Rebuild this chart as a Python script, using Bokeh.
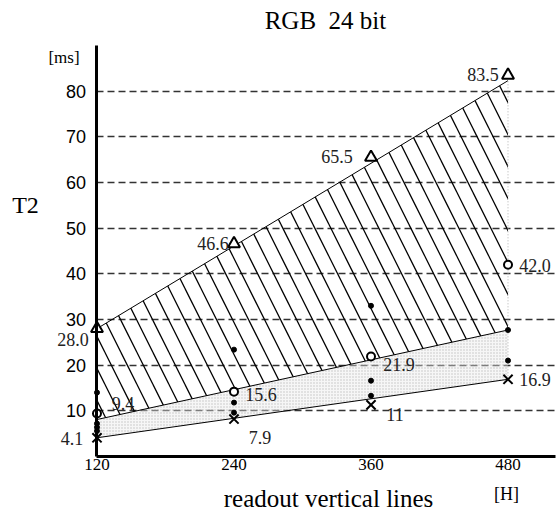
from bokeh.plotting import figure
from bokeh.models import (ColumnDataSource, FixedTicker, Label, LabelSet,
                          Range1d, Grid)
from bokeh.core.properties import value
from bokeh.embed import file_html
from bokeh.resources import INLINE

# ---------------- data ----------------
x_lines = [120, 240, 360, 480]
x_tick_labels = ["120", "240", "360", "480"]
y_ticks = [10, 20, 30, 40, 50, 60, 70, 80]

t_max = [28.0, 46.6, 65.5, 83.5]          # triangles
t_max_labels = ["28.0", "46.6", "65.5", "83.5"]
t_mid = [9.4, 14.2, 21.9, 42.0]           # circles
t_mid_labels = ["9.4", "15.6", "21.9", "42.0"]
t_min = [4.1, 8.2, 11.3, 16.9]            # crosses
t_min_labels = ["4.1", "7.9", "11", "16.9"]

dot_x = [120, 120, 120, 120, 240, 240, 240, 360, 360, 360, 480, 480]
dot_y = [14.0, 7.2, 6.4, 5.6, 23.4, 11.8, 9.6, 33.0, 16.6, 13.3, 27.7, 21.0]

band_x = [120, 480]
band_upper = [28.0, 82.3]
band_middle = [8.1, 27.7]
band_lower = [4.1, 16.9]

# label offsets in screen pixels (right, down)
max_dx = [-24, -21, -34, -25]
max_dy = [11, 0, -1, -1]
mid_dx = [26, 27, 28, 27]
mid_dy = [-10, 3, 8, 1]
min_dx = [-25, 26, 24, 27]
min_dy = [1, 18, 10, 0]

SERIF = "Liberation Serif"
SANS = "Liberation Sans"

X_END = 521.6
Y_TOP = 90

p = figure(width=559, height=515,
           x_range=Range1d(35.48, 525.1), y_range=Range1d(-12.92, 99.85),
           output_backend="svg", toolbar_location=None,
           min_border=0, min_border_left=0, min_border_right=0,
           min_border_top=0, min_border_bottom=0)
p.outline_line_color = None
p.background_fill_color = "white"
p.border_fill_color = "white"

# axes (drawn at x=120 / y=0 inside the frame)
p.xaxis.fixed_location = 0
p.xaxis.ticker = FixedTicker(ticks=x_lines)
p.xaxis.major_label_overrides = {x: s for x, s in zip(x_lines, x_tick_labels)}
p.xaxis.bounds = (x_lines[0], X_END)
p.xaxis.axis_line_width = 3
p.xaxis.axis_line_color = "black"
p.xaxis.major_tick_out = 0
p.xaxis.major_tick_in = 0
p.xaxis.minor_tick_out = 0
p.xaxis.minor_tick_in = 0
p.xaxis.major_label_standoff = 3
p.xaxis.major_label_text_font = SERIF
p.xaxis.major_label_text_font_size = "17px"
p.xaxis.major_label_text_color = "black"

p.yaxis.fixed_location = x_lines[0]
p.yaxis.ticker = FixedTicker(ticks=y_ticks)
p.yaxis.bounds = (0, Y_TOP)
p.yaxis.axis_line_width = 3
p.yaxis.axis_line_color = "black"
p.yaxis.major_tick_out = 0
p.yaxis.major_tick_in = 0
p.yaxis.minor_tick_out = 0
p.yaxis.minor_tick_in = 0
p.yaxis.major_label_standoff = 11
p.yaxis.major_label_text_font = SANS
p.yaxis.major_label_text_font_size = "18px"
p.yaxis.major_label_text_color = "black"

p.xgrid.visible = False
p.ygrid.grid_line_color = "#333333"
p.ygrid.grid_line_dash = "7 4"
p.ygrid.grid_line_width = 1.3
if "cross_bounds" in Grid.properties():
    p.ygrid.cross_bounds = (x_lines[0], X_END)

# shaded bands
p.varea(x=band_x, y1=band_lower, y2=band_middle, fill_color="#e8e8e8",
        fill_alpha=0.4, hatch_pattern="dot", hatch_scale=3,
        hatch_color="#8a8a8a", hatch_alpha=0.5)
p.varea(x=band_x, y1=band_middle, y2=band_upper, fill_alpha=0,
        hatch_pattern="left_diagonal_line", hatch_scale=32,
        hatch_weight=1.3, hatch_color="black")
p.line(band_x, band_upper, line_color="black", line_width=1)
p.line(band_x, band_middle, line_color="black", line_width=1)
p.line(band_x, band_lower, line_color="black", line_width=1)
p.segment(x0=[band_x[1]], y0=[band_lower[1]], x1=[band_x[1]], y1=[band_upper[1]],
          line_color="#b0b0b0", line_dash="1 2", line_width=1)

# markers
p.scatter(dot_x, dot_y, marker="circle", size=5, color="black")
p.scatter(x_lines, t_max, marker="triangle", size=12, line_width=2,
          line_color="black", fill_color="white")
p.scatter(x_lines, t_mid, marker="circle", size=8, line_width=2,
          line_color="black", fill_color="white")
p.scatter(x_lines, t_min, marker="x", size=13, line_width=2,
          line_color="black")

# value labels
lx, ly, lt, ldx, ldy = [], [], [], [], []
for ys, labs, dxs, dys in ((t_max, t_max_labels, max_dx, max_dy),
                           (t_mid, t_mid_labels, mid_dx, mid_dy),
                           (t_min, t_min_labels, min_dx, min_dy)):
    for x, y, t, dx, dy in zip(x_lines, ys, labs, dxs, dys):
        lx.append(x); ly.append(y); lt.append(t)
        ldx.append(dx); ldy.append(-dy)
lsrc = ColumnDataSource(dict(x=lx, y=ly, text=lt, dx=ldx, dy=ldy))
p.add_layout(LabelSet(x="x", y="y", text="text", x_offset="dx", y_offset="dy",
                      source=lsrc, text_align="center", text_baseline="middle",
                      text_font=value(SERIF), text_font_size="18px",
                      text_color="#222222"))

def lab(x, y, text, size):
    p.add_layout(Label(x=x, y=y, text=text, text_align="center",
                       text_baseline="middle", text_font=SERIF,
                       text_font_size=size, text_color="black"))

lab(320.1, 95.5, "RGB\u00a0 24 bit", "25px")
lab(57.4, 55.0, "T2", "24px")
lab(91.1, 87.3, "[ms]", "17px")
lab(322.8, -9.2, "readout vertical lines", "25px")
lab(478.7, -8.3, "[H]", "18px")

open("out.html", "w").write(file_html(p, INLINE))
